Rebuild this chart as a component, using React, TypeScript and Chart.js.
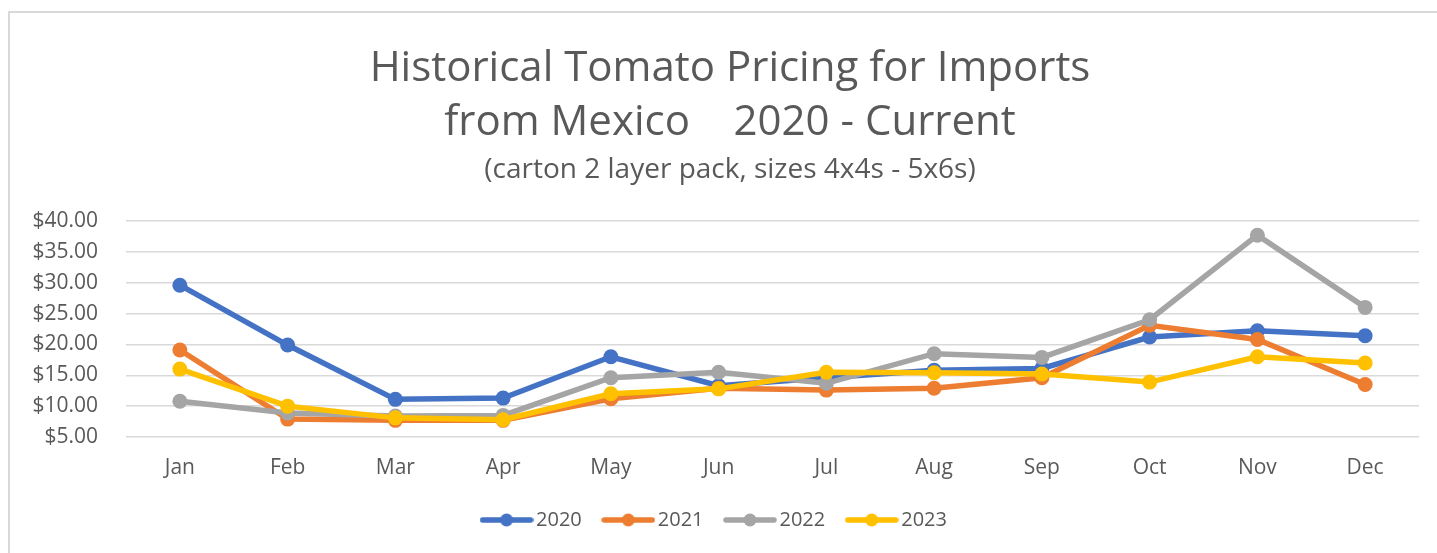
import React, { useEffect, useRef } from "react";
import { Chart, registerables } from "chart.js";

Chart.register(...registerables);

const months = ["Jan", "Feb", "Mar", "Apr", "May", "Jun", "Jul", "Aug", "Sep", "Oct", "Nov", "Dec"];
const seriesLabels = ["2020", "2021", "2022", "2023"];
const prices2020 = [29.6, 19.9, 11.1, 11.3, 18.0, 13.3, 14.6, 15.8, 16.1, 21.2, 22.2, 21.4];
const prices2021 = [19.1, 7.9, 7.7, 7.7, 11.2, 12.9, 12.6, 12.9, 14.6, 23.1, 20.8, 13.5];
const prices2022 = [10.8, 8.9, 8.4, 8.5, 14.6, 15.5, 13.7, 18.5, 17.9, 24.0, 37.7, 26.0];
const prices2023 = [16.0, 10.0, 8.1, 7.8, 12.0, 12.8, 15.5, 15.4, 15.2, 13.9, 18.0, 17.0];
const seriesColors = ["#4472C4", "#ED7D31", "#A5A5A5", "#FFC000"];
const titleLines = ["Historical Tomato Pricing for Imports", "from Mexico    2020 - Current"];
const subtitleText = "(carton 2 layer pack, sizes 4x4s - 5x6s)";
const yMin = 5;
const yMax = 40;
const yStep = 5;

const TEXT = "#595959";
const FONT = "'Open Sans', sans-serif";

function makeLegendMarker(color: string): HTMLCanvasElement {
  const c = document.createElement("canvas");
  c.width = 54;
  c.height = 16;
  const ctx = c.getContext("2d")!;
  ctx.strokeStyle = color;
  ctx.lineWidth = 5.5;
  ctx.lineCap = "round";
  ctx.beginPath();
  ctx.moveTo(3, 8);
  ctx.lineTo(51, 8);
  ctx.stroke();
  ctx.fillStyle = color;
  ctx.beginPath();
  ctx.arc(27, 8, 6.5, 0, Math.PI * 2);
  ctx.fill();
  return c;
}

export default function App() {
  const ref = useRef<HTMLCanvasElement | null>(null);

  useEffect(() => {
    if (!ref.current) return;
    Chart.defaults.font.family = FONT;
    Chart.defaults.color = TEXT;
    const seriesData = [prices2020, prices2021, prices2022, prices2023];
    const markers = seriesColors.map(makeLegendMarker);

    const boxShift = {
      id: "boxShift",
      afterLayout(chart: any) {
        chart.boxes.forEach((b: any) => {
          if (b.position === "top") {
            b.left += 10.5;
            b.right += 10.5;
          }
        });
        if (chart.legend) {
          chart.legend.left -= 2.5;
          chart.legend.right -= 2.5;
        }
      },
    };

    const chart = new Chart(ref.current, {
      type: "line",
      data: {
        labels: months,
        datasets: seriesLabels.map((label, i) => ({
          label,
          data: seriesData[i],
          borderColor: seriesColors[i],
          backgroundColor: seriesColors[i],
          borderWidth: 5.5,
          pointRadius: 7.5,
          pointHoverRadius: 7.5,
          pointBorderWidth: 0,
          pointBackgroundColor: seriesColors[i],
          tension: 0,
          fill: false,
          order: 3 - i,
        })),
      },
      options: {
        responsive: false,
        animation: false,
        layout: { padding: { left: 20, right: 18, top: 0, bottom: 13 } },
        plugins: {
          title: {
            display: true,
            text: titleLines,
            color: TEXT,
            font: { family: FONT, size: 42, weight: "normal", lineHeight: "54px" },
            padding: { top: 42, bottom: 0 },
          },
          subtitle: {
            display: true,
            text: subtitleText,
            color: TEXT,
            font: { family: FONT, size: 28, weight: "normal", lineHeight: "17px" },
            padding: { top: 11.5, bottom: 42.5 },
          },
          legend: {
            display: true,
            position: "bottom",
            labels: {
              usePointStyle: true,
              pointStyleWidth: 39,
              padding: 27,
              color: TEXT,
              font: { family: FONT, size: 20 },
              sort: (a: any, b: any) => a.datasetIndex - b.datasetIndex,
              generateLabels: (c: any) => {
                const items = Chart.defaults.plugins.legend.labels.generateLabels(c);
                return items.map((it: any, i: number) => ({
                  ...it,
                  pointStyle: markers[it.datasetIndex ?? i],
                  fontColor: TEXT,
                }));
              },
            },
          },
          tooltip: { enabled: false },
        },
        scales: {
          x: {
            offset: true,
            grid: { display: false, drawTicks: false, offset: true },
            border: { display: false },
            ticks: { color: TEXT, font: { family: FONT, size: 21 }, padding: 18 },
            afterFit: (s: any) => {
              s.height = 46;
            },
          },
          y: {
            min: yMin,
            max: yMax,
            grid: { color: "#D9D9D9", lineWidth: 1.5, drawTicks: false },
            border: { display: false },
            ticks: {
              stepSize: yStep,
              color: TEXT,
              font: { family: FONT, size: 21 },
              padding: 28,
              callback: (v: any) => "$" + Number(v).toFixed(2),
            },
            afterFit: (s: any) => {
              s.width = 106;
            },
          },
        },
      },
      plugins: [boxShift],
    });
    return () => chart.destroy();
  }, []);

  return (
    <div style={{ position: "fixed", left: 0, top: 0, width: 1437, height: 553, overflow: "hidden", background: "#fff" }}>
      <div
        style={{
          position: "absolute",
          left: 8,
          top: 11,
          width: 3000,
          height: 3000,
          borderLeft: "2px solid #D9D9D9",
          borderTop: "2px solid #D9D9D9",
        }}
      />
      <canvas ref={ref} width={1437} height={553} style={{ position: "absolute", left: 0, top: 0 }} />
    </div>
  );
}
